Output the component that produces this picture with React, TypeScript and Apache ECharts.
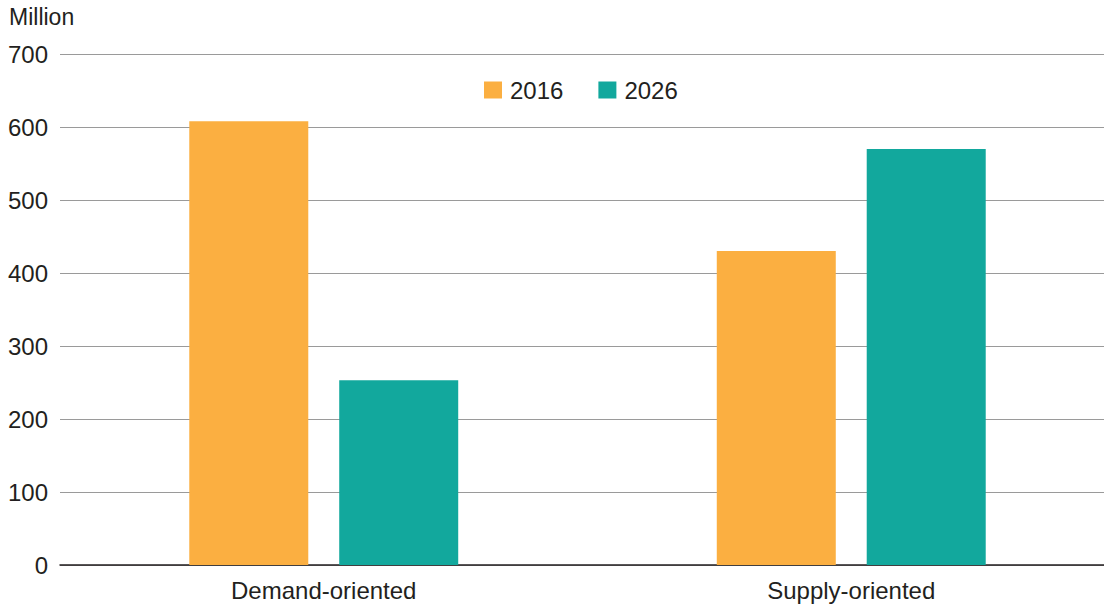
import React, { useEffect, useRef } from "react";
import * as echarts from "echarts";

const categories = ["Demand-oriented", "Supply-oriented"];
const seriesNames = ["2016", "2026"];
const values2016 = [608, 430];
const values2026 = [253, 570];
const yTicks = { min: 0, max: 700, interval: 100 };
const unitLabel = "Million";
const colors = ["#FBAF41", "#12A89D"];

const FONT = "'Liberation Sans', Arial, Helvetica, sans-serif";
const TEXT = "#231F20";
const FS = 24;

export default function App() {
  const ref = useRef<HTMLDivElement>(null);
  useEffect(() => {
    if (!ref.current) return;
    const chart = echarts.init(ref.current, undefined, { renderer: "svg" });
    chart.setOption({
      animation: false,
      color: colors,
      textStyle: { fontFamily: FONT, color: TEXT },
      graphic: [
        {
          type: "text",
          left: 9,
          top: 5,
          style: { text: unitLabel, font: `23px ${FONT}`, fill: TEXT },
        },
      ],
      legend: {
        data: seriesNames,
        left: 484,
        top: 78,
        padding: 0,
        itemWidth: 18,
        itemHeight: 17,
        itemGap: 35,
        icon: "rect",
        textStyle: { fontSize: FS, color: TEXT, fontFamily: FONT, padding: [0, 0, 0, 3] },
      },
      grid: { left: 60, top: 54, width: 1055, height: 511 },
      xAxis: {
        type: "category",
        data: categories,
        axisLine: { lineStyle: { color: TEXT, width: 1.5 } },
        axisTick: { show: false },
        axisLabel: { fontSize: FS, color: TEXT, fontFamily: FONT, margin: 13 },
      },
      yAxis: {
        type: "value",
        min: yTicks.min,
        max: yTicks.max,
        interval: yTicks.interval,
        axisLine: { show: false },
        axisTick: { show: false },
        splitLine: { lineStyle: { color: "#9A9A9A", width: 1 } },
        axisLabel: { fontSize: FS, color: TEXT, fontFamily: FONT, margin: 12 },
      },
      series: [
        { name: seriesNames[0], type: "bar", data: values2016, barWidth: 119, barGap: "26%" },
        { name: seriesNames[1], type: "bar", data: values2026, barWidth: 119, barGap: "26%" },
      ],
    });
    return () => chart.dispose();
  }, []);
  return (
    <div style={{ position: "absolute", left: 0, top: 0, width: 1104, height: 607, overflow: "hidden" }}>
      <div ref={ref} style={{ width: 1130, height: 607 }} />
    </div>
  );
}
